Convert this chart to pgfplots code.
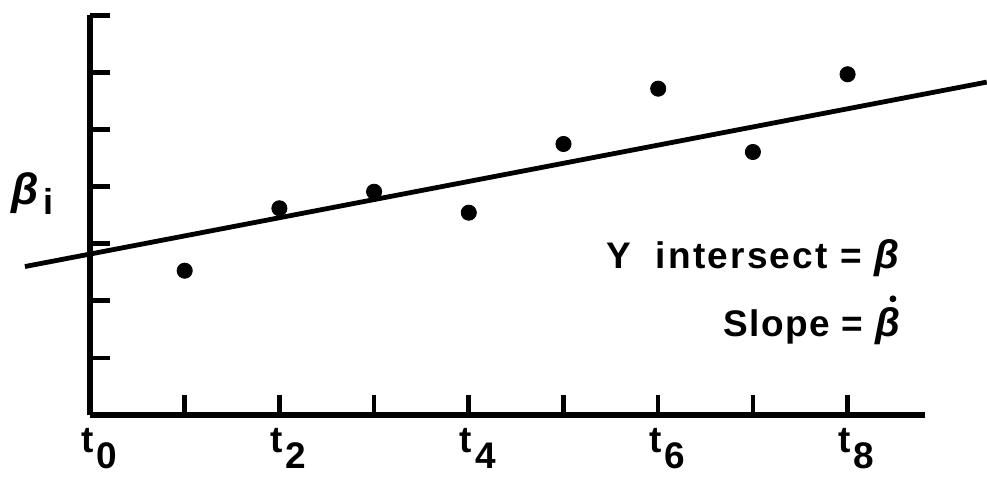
\documentclass[border=0pt]{standalone}
\usepackage{pgfplots}
\pgfplotsset{compat=1.18}
\usepackage{fontspec}
\setmainfont{Liberation Sans}
\newcommand{\tl}[1]{\fontsize{18.5}{18.5}\selectfont\bfseries t\kern1.5pt\raisebox{-8pt}{#1}}
\newcommand{\bdot}{\ooalign{\textbf{\textit{β}}\cr\hidewidth\kern4.5pt\smash{\raisebox{0.85em}{\tikz\fill[black] (0,0) circle (1.7pt);}}\hidewidth\cr}}
\begin{document}
\begin{tikzpicture}
\begin{axis}[
 x=47.35pt, y=28.55pt,
 xmin=0, xmax=8.82, ymin=0, ymax=7,
 axis lines=left,
 axis line style={-, line width=3pt, black},
 xtick={0,...,8}, xticklabels={\tl{0},,\tl{2},,\tl{4},,\tl{6},,\tl{8}},
 ytick={1,...,7}, yticklabels={},
 tick align=inside, major tick length=10pt,
 tick style={line width=2.3pt, black},
 clip=false,
 xticklabel style={anchor=north, xshift=4.5pt, yshift=-3pt},
]
\addplot[no marks, line width=2.4pt, black] coordinates {(-0.687,2.60) (9.47,5.83)};
\addplot[only marks, mark=*, mark size=3.8pt, black] coordinates {
(1,2.527) (2,3.62) (3,3.91) (4,3.543) (5,4.746) (6,5.715) (7,4.606) (8,5.967)};
\node[anchor=base east, inner sep=0pt, font=\fontsize{18.5}{18.5}\selectfont\bfseries\addfontfeatures{LetterSpace=6}] at (axis cs:8.575,2.56) {Y\ \ intersect = {\fontsize{20}{20}\selectfont\textit{β}}};
\node[anchor=base east, inner sep=0pt, font=\fontsize{18.5}{18.5}\selectfont\bfseries\addfontfeatures{LetterSpace=4}] at (axis cs:8.575,1.38) {Slope = {\fontsize{20}{20}\selectfont\bdot}};
\node[anchor=base west, inner sep=0pt, font=\bfseries] at (axis cs:-0.83,3.69) {{\fontsize{22}{22}\selectfont\textit{β}}\kern2pt\raisebox{-5pt}{\fontsize{18}{18}\selectfont i}};
\end{axis}
\pgfresetboundingbox
\path[use as bounding box] (-45pt,-31pt) rectangle (448.5pt,207.5pt);
\end{tikzpicture}
\end{document}
